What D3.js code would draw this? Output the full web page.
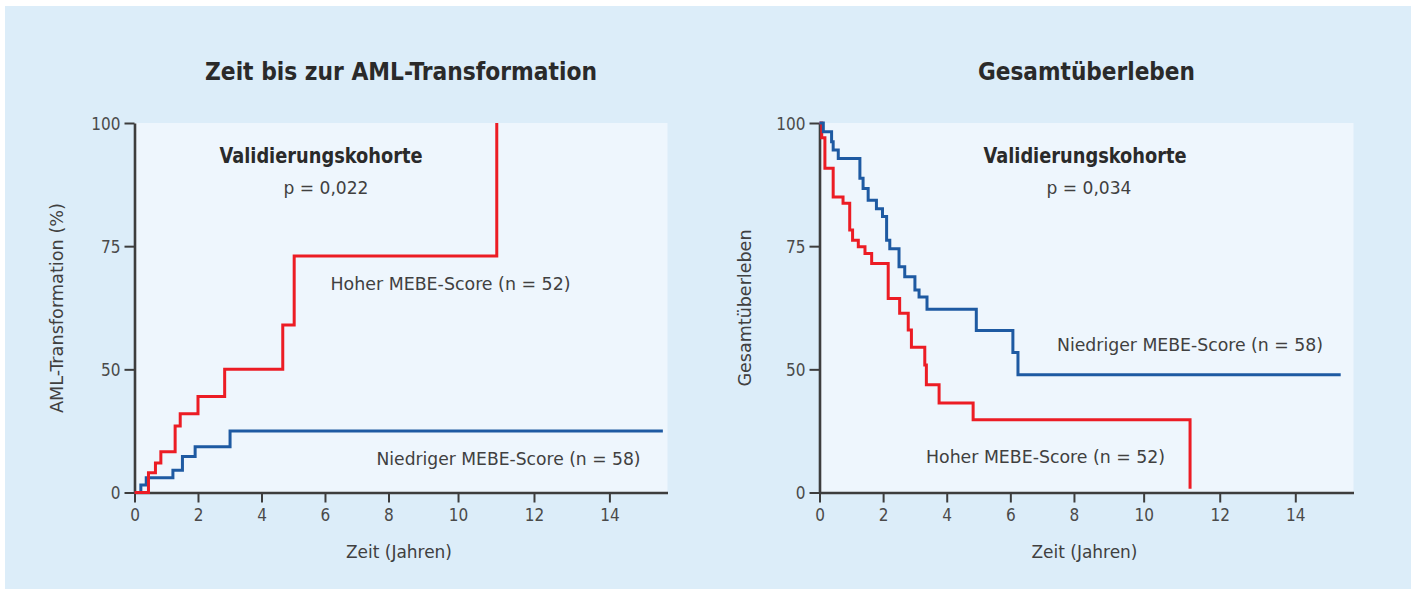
<!DOCTYPE html>
<html>
<head>
<meta charset="utf-8">
<script src="https://cdn.jsdelivr.net/npm/d3@7"></script>
<style>
  body { margin: 0; background: #ffffff; }
  svg { display: block; }
  text { font-family: "Liberation Sans Narrow", "DejaVu Sans Condensed", "Liberation Sans", sans-serif; }
</style>
</head>
<body>
<svg id="chart" width="1416" height="594"></svg>
<script>
// Axis ticks
const timeTicks = [0, 2, 4, 6, 8, 10, 12, 14];
const pctTicks = [0, 50, 75, 100];

// Zeit bis zur AML-Transformation: cumulative incidence (%) as step data
const amlHighTimes  = [0, 0.44, 0.66, 0.83, 1.28, 1.44, 2.0, 2.84, 4.67, 5.03, 11.02];
const amlHighValues = [0, 8, 12, 16.5, 27, 32, 39, 50, 59, 73, 100];
const amlLowTimes   = [0, 0.2, 0.37, 1.21, 1.51, 1.91, 3.01, 15.38];
const amlLowValues  = [0, 3, 6, 9, 14.6, 18.6, 25, 25];

// Gesamtüberleben: survival (%) as step data
const osLowTimes  = [0, 0.12, 0.38, 0.43, 0.59, 1.27, 1.37, 1.53, 1.79, 1.98, 2.11, 2.21, 2.50, 2.68, 3.00, 3.13, 3.38, 4.93, 6.08, 6.24, 15.17];
const osLowValues = [100, 98.2, 96.2, 94.5, 92.8, 88.8, 86.7, 84.3, 82.6, 81.0, 76.2, 74.5, 70.8, 68.8, 66.1, 64.7, 62.2, 57.9, 53.4, 47.8, 47.8];
const osHighTimes  = [0, 0.07, 0.17, 0.43, 0.74, 0.95, 1.04, 1.22, 1.43, 1.64, 2.16, 2.52, 2.79, 2.89, 3.31, 3.36, 3.76, 4.83, 11.22];
const osHighValues = [100, 97, 90.8, 85.0, 83.7, 78.3, 76.2, 74.9, 73.5, 71.5, 64.4, 61.4, 58.0, 54.5, 50.9, 43.7, 36.3, 29.5, 1.5];

// Break points of the (uneven) printed axes
const timeBreaks = [0, 8, 10, 12, 14, 15.5];
const timeBreakFrac = [0, 0.4765, 0.607, 0.7495, 0.891, 1];
const pctBreakFrac = [0, 1 / 3, 2 / 3, 1];

const RED = "#ec1c24", BLUE = "#1e5aa2", AXIS = "#3d3d3d";

const svg = d3.select("#chart");
svg.append("rect").attr("x", 5).attr("y", 6).attr("width", 1406).attr("height", 583).attr("fill", "#dcedf9");

const yTop = 123, yBot = 492.5;

const panels = [
  {
    x0: 134.5, x1: 667.5,
    title: "Zeit bis zur AML-Transformation", titleW: 392,
    yLabel: "AML-Transformation (%)", yLabelX: 57, yLabelW: 210,
    pValue: "p = 0,022", cohortX: 321, pX: 326,
    series: [
      { times: amlLowTimes, values: amlLowValues, color: BLUE },
      { times: amlHighTimes, values: amlHighValues, color: RED }
    ],
    labels: [
      { text: "Hoher MEBE-Score (n = 52)", x: 330.5, y: 290, w: 240 },
      { text: "Niedriger MEBE-Score (n = 58)", x: 376.5, y: 465, w: 264 }
    ]
  },
  {
    x0: 819.5, x1: 1353.5,
    title: "Gesamtüberleben", titleW: 217,
    yLabel: "Gesamtüberleben", yLabelX: 745, yLabelW: 157,
    pValue: "p = 0,034", cohortX: 1085, pX: 1089,
    series: [
      { times: osHighTimes, values: osHighValues, color: RED },
      { times: osLowTimes, values: osLowValues, color: BLUE }
    ],
    labels: [
      { text: "Niedriger MEBE-Score (n = 58)", x: 1057, y: 351, w: 266 },
      { text: "Hoher MEBE-Score (n = 52)", x: 926, y: 463, w: 239 }
    ]
  }
];

panels.forEach(p => {
  const x = d3.scaleLinear()
    .domain(timeBreaks)
    .range(timeBreakFrac.map(f => p.x0 + f * (p.x1 - p.x0)));
  const y = d3.scaleLinear()
    .domain(pctTicks)
    .range(pctBreakFrac.map(f => yBot - f * (yBot - yTop)));

  const g = svg.append("g");

  // plot area
  g.append("rect")
    .attr("x", p.x0).attr("y", yTop)
    .attr("width", p.x1 - p.x0).attr("height", yBot - yTop)
    .attr("fill", "#eef6fd");

  // title
  g.append("text")
    .attr("x", (p.x0 + p.x1) / 2).attr("y", 80)
    .attr("text-anchor", "middle")
    .attr("font-size", 24).attr("font-weight", 700)
    .attr("fill", "#2a2a2a")
    .attr("textLength", p.titleW).attr("lengthAdjust", "spacingAndGlyphs")
    .text(p.title);

  // axes
  const xAxis = g.append("g")
    .attr("transform", `translate(0,${yBot})`)
    .call(d3.axisBottom(x).tickValues(timeTicks).tickSize(10).tickSizeOuter(0).tickPadding(6));
  const yAxis = g.append("g")
    .attr("transform", `translate(${p.x0},0)`)
    .call(d3.axisLeft(y).tickValues(pctTicks).tickSize(10).tickSizeOuter(0).tickPadding(4));

  [xAxis, yAxis].forEach(a => {
    a.select(".domain").attr("stroke", AXIS).attr("stroke-width", 2.6);
    a.selectAll(".tick line").attr("stroke", AXIS).attr("stroke-width", 2);
    a.selectAll(".tick text").attr("fill", "#4a4a4a").attr("font-size", 17)
      .attr("font-family", "'Liberation Sans', sans-serif");
  });
  yAxis.selectAll(".tick text").attr("dy", "0.36em");

  // axis titles
  g.append("text")
    .attr("x", (p.x0 + p.x1) / 2 - 2).attr("y", 558)
    .attr("text-anchor", "middle")
    .attr("font-size", 18).attr("fill", "#404040")
    .attr("textLength", 106).attr("lengthAdjust", "spacingAndGlyphs")
    .text("Zeit (Jahren)");
  g.append("text")
    .attr("transform", `translate(${p.yLabelX + 6},308) rotate(-90)`)
    .attr("text-anchor", "middle")
    .attr("font-size", 17).attr("fill", "#404040")
    .attr("textLength", p.yLabelW).attr("lengthAdjust", "spacingAndGlyphs")
    .text(p.yLabel);

  // cohort annotation
  g.append("text")
    .attr("x", p.cohortX).attr("y", 163)
    .attr("text-anchor", "middle")
    .attr("font-size", 21).attr("font-weight", 700).attr("fill", "#2a2a2a")
    .attr("textLength", 203).attr("lengthAdjust", "spacingAndGlyphs")
    .text("Validierungskohorte");
  g.append("text")
    .attr("x", p.pX).attr("y", 194)
    .attr("text-anchor", "middle")
    .attr("font-size", 17).attr("fill", "#404040")
    .attr("textLength", 85).attr("lengthAdjust", "spacingAndGlyphs")
    .text(p.pValue);

  // curves
  const line = d3.line()
    .x(d => x(d[0]))
    .y(d => y(d[1]))
    .curve(d3.curveStepAfter);
  p.series.forEach(s => {
    const pts = s.times.map((t, i) => [t, s.values[i]]);
    g.append("path")
      .datum(pts)
      .attr("d", line)
      .attr("fill", "none")
      .attr("stroke", s.color)
      .attr("stroke-width", 3);
  });

  // group labels
  p.labels.forEach(l => {
    g.append("text")
      .attr("x", l.x).attr("y", l.y)
      .attr("font-size", 18).attr("fill", "#404040")
      .attr("textLength", l.w).attr("lengthAdjust", "spacingAndGlyphs")
      .text(l.text);
  });
});
</script>
</body>
</html>
